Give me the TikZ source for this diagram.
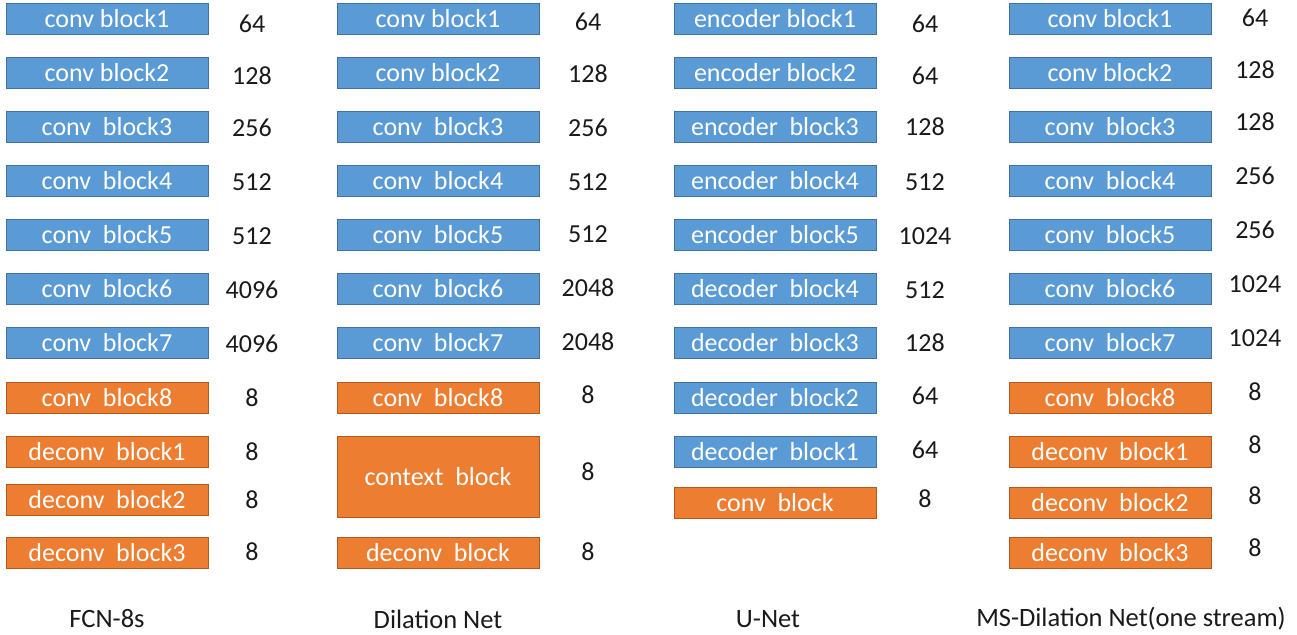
\documentclass[tikz,border=0pt]{standalone}
\usepackage{fontspec}
\setmainfont{Carlito}
\definecolor{bfill}{HTML}{5B9BD5}
\definecolor{bline}{HTML}{41719C}
\definecolor{ofill}{HTML}{ED7D31}
\definecolor{oline}{HTML}{AE5A21}
\definecolor{txt}{HTML}{1A1A1A}
\begin{document}
\begin{tikzpicture}[x=1pt,y=-1pt,
  box/.style={draw, line width=0.9pt, minimum width=202pt, minimum height=31pt, inner sep=0pt, text=white, font=\fontsize{26}{30}\selectfont},
  bbox/.style={box, fill=bfill, draw=bline},
  obox/.style={box, fill=ofill, draw=oline},
  num/.style={text=txt, inner sep=0pt, font=\fontsize{26}{30}\selectfont},
  ttl/.style={text=txt, inner sep=0pt, font=\fontsize{26.5}{30}\selectfont}]
\useasboundingbox (0,0) rectangle (1297,634);
% Column 1: FCN-8s
\node[bbox] (a1) at (107,18.7) {conv block1};
\node[bbox] (a2) at (107,72.7) {conv block2};
\node[bbox] (a3) at (107,126.7) {conv\ \ block3};
\node[bbox] (a4) at (107,180.7) {conv\ \ block4};
\node[bbox] (a5) at (107,234.7) {conv\ \ block5};
\node[bbox] (a6) at (107,288.7) {conv\ \ block6};
\node[bbox] (a7) at (107,342.7) {conv\ \ block7};
\node[obox] (a8) at (107,397.5) {conv\ \ block8};
\node[obox] (a9) at (107,452) {deconv\ \ block1};
\node[obox] (a10) at (107,500) {deconv\ \ block2};
\node[obox] (a11) at (107,552.5) {deconv\ \ block3};
\node[num] (na1) at (252,24) {64};
\node[num] (na2) at (252,76) {128};
\node[num] (na3) at (252,128) {256};
\node[num] (na4) at (252,182) {512};
\node[num] (na5) at (252,236) {512};
\node[num] (na6) at (252,290) {4096};
\node[num] (na7) at (252,344) {4096};
\node[num] (na8) at (252,398) {8};
\node[num] (na9) at (252,452) {8};
\node[num] (na10) at (252,500) {8};
\node[num] (na11) at (252,552) {8};
% Column 2: Dilation Net
\node[bbox] (b1) at (438,18.7) {conv block1};
\node[bbox] (b2) at (438,72.7) {conv block2};
\node[bbox] (b3) at (438,126.7) {conv\ \ block3};
\node[bbox] (b4) at (438,180.7) {conv\ \ block4};
\node[bbox] (b5) at (438,234.7) {conv\ \ block5};
\node[bbox] (b6) at (438,288.7) {conv\ \ block6};
\node[bbox] (b7) at (438,342.7) {conv\ \ block7};
\node[obox] (b8) at (438,397.5) {conv\ \ block8};
\node[obox, minimum height=81pt] (b9) at (438,476.5) {context\ \ block};
\node[obox] (b10) at (438,552.5) {deconv\ \ block};
\node[num] (nb1) at (588,22) {64};
\node[num] (nb2) at (588,74) {128};
\node[num] (nb3) at (588,128) {256};
\node[num] (nb4) at (588,182) {512};
\node[num] (nb5) at (588,234) {512};
\node[num] (nb6) at (588,288) {2048};
\node[num] (nb7) at (588,342) {2048};
\node[num] (nb8) at (588,395) {8};
\node[num] (nb9) at (588,472) {8};
\node[num] (nb10) at (588,552) {8};
% Column 3: U-Net
\node[bbox] (c1) at (775,18.7) {encoder block1};
\node[bbox] (c2) at (775,72.7) {encoder block2};
\node[bbox] (c3) at (775,126.7) {encoder\ \ block3};
\node[bbox] (c4) at (775,180.7) {encoder\ \ block4};
\node[bbox] (c5) at (775,234.7) {encoder\ \ block5};
\node[bbox] (c6) at (775,288.7) {decoder\ \ block4};
\node[bbox] (c7) at (775,342.7) {decoder\ \ block3};
\node[bbox] (c8) at (775,397.5) {decoder\ \ block2};
\node[bbox] (c9) at (775,452) {decoder\ \ block1};
\node[obox] (c10) at (775,502.5) {conv\ \ block};
\node[num] (nc1) at (925,24) {64};
\node[num] (nc2) at (925,76) {64};
\node[num] (nc3) at (925,127) {128};
\node[num] (nc4) at (925,182) {512};
\node[num] (nc5) at (925,236) {1024};
\node[num] (nc6) at (925,290) {512};
\node[num] (nc7) at (925,343) {128};
\node[num] (nc8) at (925,396) {64};
\node[num] (nc9) at (925,450) {64};
\node[num] (nc10) at (925,499) {8};
% Column 4: MS-Dilation Net
\node[bbox] (d1) at (1110,18.7) {conv block1};
\node[bbox] (d2) at (1110,72.7) {conv block2};
\node[bbox] (d3) at (1110,126.7) {conv\ \ block3};
\node[bbox] (d4) at (1110,180.7) {conv\ \ block4};
\node[bbox] (d5) at (1110,234.7) {conv\ \ block5};
\node[bbox] (d6) at (1110,288.7) {conv\ \ block6};
\node[bbox] (d7) at (1110,342.7) {conv\ \ block7};
\node[obox] (d8) at (1110,397.5) {conv\ \ block8};
\node[obox] (d9) at (1110,451.5) {deconv\ \ block1};
\node[obox] (d10) at (1110,502.5) {deconv\ \ block2};
\node[obox] (d11) at (1110,552.5) {deconv\ \ block3};
\node[num] (nd1) at (1255,18) {64};
\node[num] (nd2) at (1255,70) {128};
\node[num] (nd3) at (1255,122) {128};
\node[num] (nd4) at (1255,176) {256};
\node[num] (nd5) at (1255,230) {256};
\node[num] (nd6) at (1255,284) {1024};
\node[num] (nd7) at (1255,338) {1024};
\node[num] (nd8) at (1255,392) {8};
\node[num] (nd9) at (1255,445) {8};
\node[num] (nd10) at (1255,496) {8};
\node[num] (nd11) at (1255,548) {8};
% Titles
\node[ttl] (t1) at (107,619) {FCN-8s};
\node[ttl] (t2) at (438,619) {Dilation Net};
\node[ttl] (t3) at (768,619) {U-Net};
\node[ttl] (t4) at (1131,619) {MS-Dilation Net(one stream)};
\end{tikzpicture}
\end{document}
